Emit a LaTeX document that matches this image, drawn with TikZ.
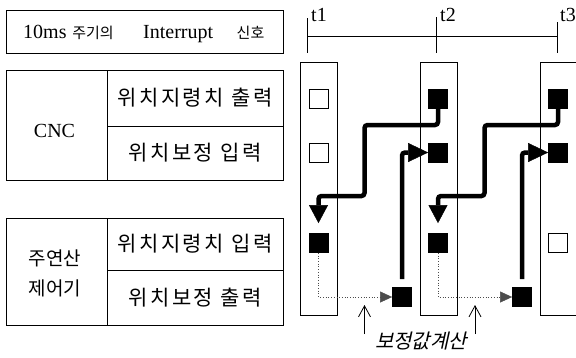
\documentclass[tikz,border=0pt]{standalone}
\usepackage{fontspec}
\setmainfont{Liberation Serif}
\newfontfamily\kr{Noto Sans CJK KR}
\newfontfamily\krsp{Noto Sans CJK KR}[LetterSpace=12]
\newfontfamily\krit{Noto Sans CJK KR}[FakeSlant=0.22]
\usetikzlibrary{arrows.meta}
\begin{document}
\begin{tikzpicture}[x=1pt,y=-1pt,
  cell/.style={draw=black, line width=0.8pt, inner sep=0pt, anchor=center},
  sqe/.style={draw=black, line width=0.8pt, minimum size=19pt, inner sep=0pt},
  sqf/.style={sqe, fill=black},
  colbox/.style={draw=black, line width=0.8pt},
  tick/.style={draw=black, line width=0.8pt},
  thickpd/.style={line width=4.5pt, rounded corners=3pt, -{Triangle[length=18pt,width=19pt,line width=0.4pt]}},
  thickpr/.style={line width=4.5pt, rounded corners=3pt, -{Triangle[length=20pt,width=19pt,line width=0.4pt]}},
  dotline/.style={line width=0.7pt, dotted, draw=black!70, -{Triangle[length=12pt,width=11pt,line width=0.4pt]}},
  uparr/.style={line width=0.8pt, -{Straight Barb[length=11pt,width=12pt]}},
  rowtxt/.style={font=\krsp\fontsize{21}{25}\selectfont},
  lat/.style={font=\fontsize{20}{24}\selectfont, inner sep=0pt},
  krsmall/.style={font=\kr\fontsize{15}{18}\selectfont, inner sep=0pt},
]
\useasboundingbox (0,0) rectangle (576,357);
\clip (0,0) rectangle (576,357);

% ---------- left table ----------
\node[cell, minimum width=277pt, minimum height=43pt] (intr) at (144.5,31.5) {};
\node[lat, anchor=base west] (i1) at (23,38.5) {10ms};
\node[krsmall] (i2) at (93,32.5) {주기의};
\node[lat, anchor=base west] (i3) at (143,38.5) {Interrupt};
\node[krsmall] (i4) at (250.5,32.5) {신호};

\node[cell, minimum width=101pt, minimum height=110pt] (cnc) at (56.5,125) {};
\node[lat, anchor=base] (cnctxt) at (54.5,137.5) {CNC};
\node[cell, minimum width=176pt, minimum height=56pt, rowtxt] (cout) at (195,98) {위치지령치 출력};
\node[cell, minimum width=176pt, minimum height=54pt, rowtxt] (cin) at (195,153) {위치보정 입력};

\node[cell, minimum width=101pt, minimum height=107pt] (mc) at (56.5,271.5) {};
\node[align=center, inner sep=0pt, font=\kr\fontsize{19}{30}\selectfont] (mctxt) at (55,273) {주연산\\제어기};
\node[cell, minimum width=176pt, minimum height=52pt, rowtxt] (min) at (195,244) {위치지령치 입력};
\node[cell, minimum width=176pt, minimum height=55pt, rowtxt] (mout) at (195,297.5) {위치보정 출력};

% ---------- timeline ----------
\coordinate (ta1) at (307,18);  \coordinate (tb1) at (307,53);
\coordinate (ta2) at (436,17);  \coordinate (tb2) at (436,53);
\coordinate (ta3) at (557,22);  \coordinate (tb3) at (557,53);
\coordinate (h1) at (307,36);   \coordinate (h3) at (557,36);
\draw[tick] (ta1) -- (tb1);
\draw[tick] (ta2) -- (tb2);
\draw[tick] (ta3) -- (tb3);
\draw[tick] (h1) -- (h3);
\node[lat, anchor=base west] (lt1) at (311,21) {t1};
\node[lat, anchor=base west] (lt2) at (440,21) {t2};
\node[lat, anchor=base west] (lt3) at (560,21) {t3};

% ---------- columns ----------
\draw[colbox] (300,62) rectangle (337,315);
\draw[colbox] (420,62) rectangle (457,315);
\draw[colbox] (540,62) rectangle (600,315);

% ---------- squares ----------
\node[sqe] (s1a) at (318.5,98.5) {};
\node[sqe] (s1b) at (318.5,152.5) {};
\node[sqf] (s1c) at (318.5,243) {};
\node[sqf] (s2a) at (438,98.5) {};
\node[sqf] (s2b) at (438,152.5) {};
\node[sqf] (s2c) at (438,243) {};
\node[sqf] (s3a) at (558,98.5) {};
\node[sqf] (s3b) at (558,152.5) {};
\node[sqe] (s3c) at (558,242.5) {};
\node[sqf] (b1) at (402,297) {};
\node[sqf] (b2) at (522,297) {};

% ---------- thick connectors ----------
\draw[thickpd, shorten >=10pt] (s2a.south) -- (438,125) -- (364.5,125) -- (364.5,196) -- (318.5,196) -- (s1c.north);
\draw[thickpd, shorten >=10pt] (s3a.south) -- (558,125) -- (484.5,125) -- (484.5,196) -- (438,196) -- (s2c.north);
\draw[thickpr, shorten <=8pt] (b1.north) -- (402,152.5) -- (s2b.west);
\draw[thickpr, shorten <=8pt] (b2.north) -- (522,152.5) -- (s3b.west);

% ---------- dotted connectors ----------
\draw[dotline] (s1c.south) -- (318.5,297) -- (b1.west);
\draw[dotline] (s2c.south) -- (438,297) -- (b2.west);

% ---------- label ----------
\node[inner sep=0pt, font=\krit\fontsize{20}{24}\selectfont] (lbl) at (421,341) {보정값계산};
\coordinate (u1s) at (364.5,334); \coordinate (u1e) at (364.5,305);
\coordinate (u2s) at (475,334);   \coordinate (u2e) at (475,305);
\draw[uparr] (u1s) -- (u1e);
\draw[uparr] (u2s) -- (u2e);
\end{tikzpicture}
\end{document}
